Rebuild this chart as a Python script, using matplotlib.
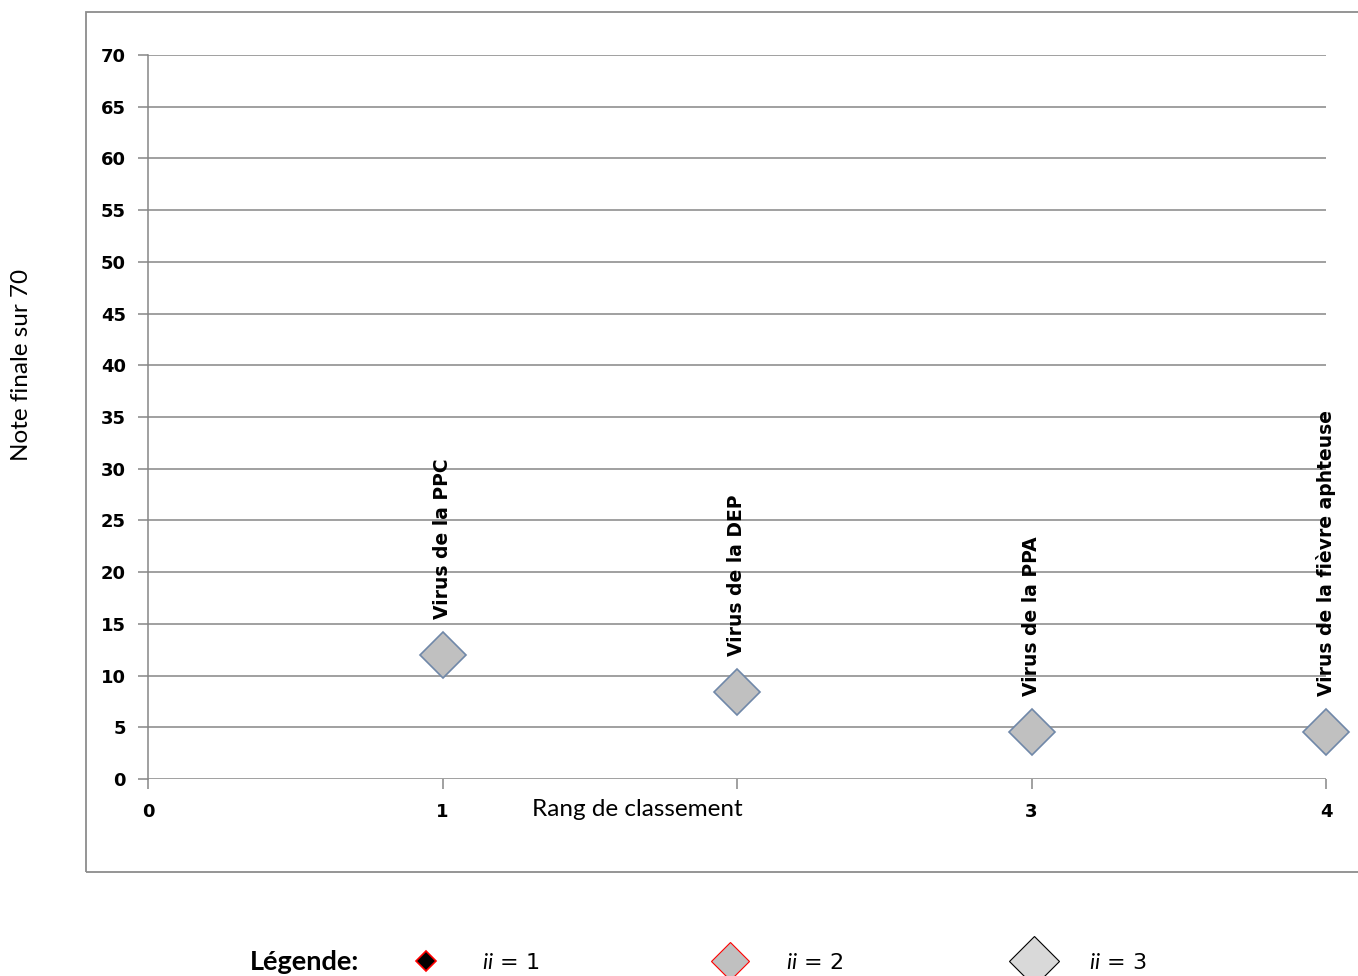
import matplotlib
matplotlib.use('Agg')
import matplotlib.pyplot as plt
from matplotlib.lines import Line2D
from matplotlib.patches import Rectangle

plt.rcParams['font.family'] = ['DejaVu Sans']
plt.rcParams['mathtext.fontset'] = 'custom'
plt.rcParams['mathtext.it'] = 'Lato:italic'
plt.rcParams['mathtext.rm'] = 'Lato'

# data
rangs = [1, 2, 3, 4]
notes = [12.0, 8.4, 4.5, 4.5]
virus = ['Virus de la PPC', 'Virus de la DEP', 'Virus de la PPA',
         'Virus de la fièvre aphteuse']
xticks = [0, 1, 2, 3, 4]
xticklabels = ['0', '1', '', '3', '4']
yticks = list(range(0, 75, 5))
legend_labels = [r'$ii$ = 1', r'$ii$ = 2', r'$ii$ = 3']

grid_col = '#868686'

fig = plt.figure(figsize=(13.58, 9.76), dpi=100)
fig.patches.append(Rectangle((86 / 1358, 1 - 872 / 976), 1.0, (872 - 12) / 976,
                             transform=fig.transFigure, fill=False,
                             edgecolor='#8c8c8c', lw=1.3))

ax = fig.add_axes([148 / 1358, 1 - 779 / 976, (1326 - 148) / 1358, (779 - 55) / 976])
ax.set_xlim(0, 4)
ax.set_ylim(0, 70)
ax.set_yticks(yticks)
ax.set_xticks(xticks)
ax.set_xticklabels(xticklabels)
ax.yaxis.grid(True, color=grid_col, lw=1.1)
ax.set_axisbelow(True)
for s in ['top', 'right', 'bottom']:
    ax.spines[s].set_visible(False)
ax.spines['left'].set_color(grid_col)
ax.spines['left'].set_linewidth(1.1)
ax.tick_params(axis='both', colors=grid_col, labelcolor='black', width=1.1,
               length=7, labelsize=13)
ax.tick_params(axis='y', pad=9)
ax.tick_params(axis='x', pad=10)
for lab in ax.get_xticklabels() + ax.get_yticklabels():
    lab.set_fontweight('bold')

ax.plot(rangs, notes, linestyle='none', marker='D', markersize=23.5,
        markerfacecolor='#c0c0c0', markeredgecolor='#7088a8',
        markeredgewidth=1.2, clip_on=False, zorder=3)

for x, y, name in zip(rangs, notes, virus):
    ax.annotate(name, (x, y), xytext=(0, 26), textcoords='offset points',
                rotation=90, ha='center', va='bottom', fontsize=13.5,
                fontweight='bold')

fig.text(637 / 1358, 1 - 809 / 976, 'Rang de classement', ha='center',
         va='center', fontsize=17.5, family='Lato')
fig.text(22 / 1358, 1 - 365 / 976, 'Note finale sur 70', ha='center',
         va='center', rotation=90, fontsize=17.5, family='Lato')

# legend
fig.text(305 / 1358, 1 - 962 / 976, 'Légende:', ha='center', va='center',
         fontsize=19.5, fontweight='bold', family='Lato')
handles = [
    Line2D([], [], linestyle='none', marker='D', markersize=10.5,
           markerfacecolor='black', markeredgecolor='red', markeredgewidth=1.2),
    Line2D([], [], linestyle='none', marker='D', markersize=19,
           markerfacecolor='#c0c0c0', markeredgecolor='red', markeredgewidth=0.8),
    Line2D([], [], linestyle='none', marker='D', markersize=25,
           markerfacecolor='#d9d9d9', markeredgecolor='black', markeredgewidth=0.8),
]
fig.legend(handles, legend_labels, loc='center left',
           bbox_to_anchor=(404 / 1358, 1 - 963 / 976), ncol=3, frameon=False,
           fontsize=16, handletextpad=1.5, columnspacing=7.6, borderpad=0,
           borderaxespad=0)

fig.savefig('out.png', dpi=100)
